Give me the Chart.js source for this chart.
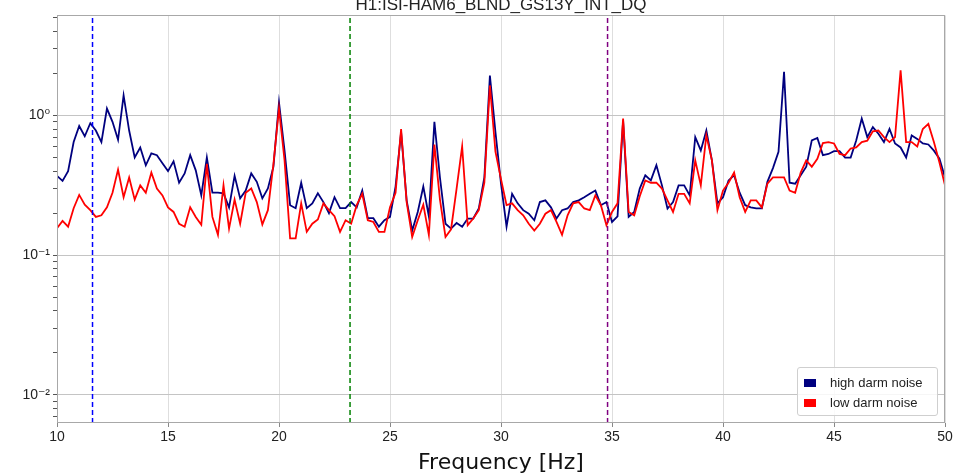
<!DOCTYPE html>
<html>
<head>
<meta charset="utf-8">
<script src="https://cdn.jsdelivr.net/npm/chart.js@4.4.0/dist/chart.umd.min.js"></script>
<style>
  html, body { margin: 0; padding: 0; background: #fff; overflow: hidden; }
  #wrap { position: relative; width: 957px; height: 476px; overflow: hidden; }
  #holder { position: absolute; left: 0; top: -8px; width: 957px; height: 484px; }
  .legend {
    position: absolute; left: 797px; top: 367px; width: 139px; height: 47px;
    border: 1px solid #cfcfcf; border-radius: 3px; background: rgba(255, 255, 255, 0.85);
    font: 13px "Liberation Sans", Arial, sans-serif; color: #222;
  }
  .legend .sw { position: absolute; left: 6px; width: 12px; height: 8px; }
  .legend .txt { position: absolute; left: 32px; height: 16px; line-height: 16px; white-space: nowrap; }
</style>
</head>
<body>
<div id="wrap">
  <div id="holder"><canvas id="psd" width="957" height="484"></canvas></div>
  <div class="legend" id="legend"></div>
</div>
<script>
// frequency grid of the spectra
const freqStart = 10;
const freqStep = 0.25;

// high darm noise (navy), 10 .. 50 Hz
const highNoise = [
  0.37, 0.34, 0.40, 0.645, 0.84, 0.71, 0.88, 0.78,
  0.645, 1.12, 0.90, 0.67, 1.39, 0.78, 0.50, 0.59,
  0.44, 0.535, 0.52, 0.455, 0.40, 0.47, 0.33, 0.385,
  0.52, 0.405, 0.268, 0.50, 0.28, 0.28, 0.277, 0.22,
  0.37, 0.255, 0.29, 0.385, 0.335, 0.255, 0.30, 0.43,
  1.24, 0.56, 0.228, 0.217, 0.33, 0.217, 0.235, 0.277,
  0.24, 0.20, 0.26, 0.217, 0.217, 0.24, 0.22, 0.29,
  0.184, 0.184, 0.16, 0.178, 0.188, 0.31, 0.76, 0.247,
  0.15, 0.204, 0.31, 0.19, 0.90, 0.36, 0.168, 0.155,
  0.17, 0.16, 0.183, 0.183, 0.216, 0.36, 1.93, 0.76,
  0.325, 0.16, 0.275, 0.235, 0.21, 0.198, 0.178, 0.24,
  0.247, 0.22, 0.183, 0.21, 0.216, 0.24, 0.247, 0.26,
  0.275, 0.29, 0.228, 0.24, 0.173, 0.19, 0.92, 0.188,
  0.204, 0.30, 0.373, 0.343, 0.44, 0.316, 0.216, 0.24,
  0.316, 0.316, 0.268, 0.70, 0.562, 0.78, 0.477, 0.235,
  0.26, 0.343, 0.373, 0.28, 0.228, 0.22, 0.216, 0.216,
  0.335, 0.42, 0.55, 2.05, 0.33, 0.325, 0.373, 0.43,
  0.663, 0.69, 0.52, 0.53, 0.555, 0.555, 0.50, 0.50,
  0.663, 0.95, 0.70, 0.825, 0.74, 0.645, 0.80, 0.63,
  0.59, 0.50, 0.72, 0.68, 0.63, 0.62, 0.56, 0.49,
  0.36
];

// low darm noise (red), 10 .. 50 Hz
const lowNoise = [
  0.156, 0.176, 0.16, 0.217, 0.27, 0.23, 0.21, 0.188,
  0.193, 0.22, 0.28, 0.41, 0.26, 0.36, 0.25, 0.316,
  0.28, 0.39, 0.30, 0.268, 0.22, 0.204, 0.168, 0.16,
  0.22, 0.188, 0.165, 0.45, 0.188, 0.14, 0.316, 0.155,
  0.25, 0.168, 0.28, 0.30, 0.24, 0.166, 0.21, 0.45,
  1.12, 0.477, 0.132, 0.132, 0.235, 0.147, 0.168, 0.18,
  0.235, 0.21, 0.19, 0.147, 0.178, 0.168, 0.228, 0.275,
  0.178, 0.173, 0.147, 0.147, 0.22, 0.28, 0.80, 0.24,
  0.135, 0.178, 0.23, 0.14, 0.62, 0.25, 0.135, 0.153,
  0.30, 0.60, 0.164, 0.183, 0.21, 0.33, 1.64, 0.55,
  0.35, 0.228, 0.235, 0.21, 0.193, 0.168, 0.15, 0.168,
  0.198, 0.21, 0.173, 0.14, 0.193, 0.235, 0.24, 0.216,
  0.21, 0.268, 0.228, 0.164, 0.204, 0.235, 0.95, 0.204,
  0.193, 0.264, 0.343, 0.33, 0.33, 0.30, 0.247, 0.204,
  0.275, 0.275, 0.235, 0.477, 0.316, 0.72, 0.477, 0.21,
  0.29, 0.33, 0.39, 0.26, 0.204, 0.247, 0.247, 0.22,
  0.325, 0.36, 0.36, 0.36, 0.29, 0.28, 0.39, 0.477,
  0.43, 0.49, 0.635, 0.645, 0.63, 0.53, 0.52, 0.58,
  0.59, 0.645, 0.66, 0.77, 0.78, 0.70, 0.645, 0.70,
  2.1, 0.645, 0.645, 0.60, 0.80, 0.87, 0.645, 0.46,
  0.316
];

const seriesNames = ["high darm noise", "low darm noise"];
const seriesColors = ["#00007f", "#ff0000"];

// dashed reference lines
const markerFreqs = [11.6, 23.2, 34.8];
const markerColors = ["#0000ff", "#008000", "#800080"];

const yTickValues = [1, 0.1, 0.01];
const yTickLabels = ["10⁰", "10⁻¹", "10⁻²"];
const xMin = 10, xMax = 50, xStep = 5;
const yMin = 0.0063, yMax = 5.2;

const narrow = "'Liberation Sans Narrow', 'Liberation Sans', 'DejaVu Sans', sans-serif";

function toPoints(values) {
  return values.map((v, i) => ({ x: freqStart + i * freqStep, y: v }));
}

function isPow10(v) {
  const e = Math.log10(v);
  return Math.abs(e - Math.round(e)) < 1e-6;
}

function isLogStep(v) {
  const s = v / Math.pow(10, Math.floor(Math.log10(v) + 1e-9));
  return Math.abs(s - Math.round(s)) < 1e-6;
}

let datasets = [
  {
    label: seriesNames[0],
    data: toPoints(highNoise),
    borderColor: seriesColors[0],
    borderWidth: 1.8,
    pointRadius: 0,
    order: 2,
  },
  {
    label: seriesNames[1],
    data: toPoints(lowNoise),
    borderColor: seriesColors[1],
    borderWidth: 1.8,
    pointRadius: 0,
    order: 1,
  },
];

markerFreqs.forEach((f, i) => {
  datasets.push({
    label: "marker" + i,
    data: [{ x: f, y: yMin }, { x: f, y: yMax }],
    borderColor: markerColors[i],
    borderWidth: 1.5,
    borderDash: [5, 3],
    pointRadius: 0,
    order: 0,
  });
});

const framePlugin = {
  id: "frame",
  afterDraw(chart) {
    const { ctx, chartArea: a } = chart;
    ctx.save();
    ctx.strokeStyle = "#a8a8a8";
    ctx.lineWidth = 1;
    ctx.strokeRect(Math.round(a.left) + 0.5, Math.round(a.top) + 0.5,
      Math.round(a.width) - 1, Math.round(a.height) - 1);
    ctx.restore();
  },
};

new Chart(document.querySelector("#psd"), {
  type: "line",
  data: { datasets: datasets },
  options: {
    responsive: false,
    animation: false,
    devicePixelRatio: 1,
    layout: { padding: { top: 0, right: 12, bottom: 0, left: 0 } },
    plugins: {
      legend: { display: false },
      tooltip: { enabled: false },
      title: {
        display: true,
        text: "H1:ISI-HAM6_BLND_GS13Y_INT_DQ",
        fullSize: false,
        color: "#222",
        font: { family: narrow, size: 17, weight: "normal" },
        padding: { top: 3, bottom: 0 },
      },
    },
    scales: {
      x: {
        type: "linear",
        min: xMin,
        max: xMax,
        afterFit: (scale) => { scale.height = 53; },
        border: { display: false },
        grid: { color: "#dedede", tickColor: "#888", tickLength: 4 },
        ticks: {
          stepSize: xStep,
          padding: 2,
          color: "#222",
          font: { family: narrow, size: 14 },
          maxRotation: 0,
        },
        title: {
          display: true,
          text: "Frequency [Hz]",
          color: "#111",
          font: { family: "'DejaVu Sans', sans-serif", size: 22 },
          padding: { top: 0, bottom: 0 },
        },
      },
      y: {
        type: "logarithmic",
        min: yMin,
        max: yMax,
        afterFit: (scale) => { scale.width = 57; },
        border: { display: false },
        grid: {
          color: (c) => (c.tick && isPow10(c.tick.value) ? "#c4c4c4" : "rgba(0,0,0,0)"),
          tickColor: (c) => (c.tick && isLogStep(c.tick.value) ? "#555" : "rgba(0,0,0,0)"),
          tickLength: 4,
        },
        ticks: {
          autoSkip: false,
          padding: 3,
          color: "#222",
          font: { family: narrow, size: 14 },
          callback: (v) => {
            const k = yTickValues.findIndex((t) => Math.abs(t - v) / t < 1e-6);
            return k >= 0 ? yTickLabels[k] : "";
          },
        },
      },
    },
  },
  plugins: [framePlugin],
});

// legend box inside the axes
let legendMarkUp = "";
seriesNames.forEach((name, i) => {
  const top = 7 + i * 20;
  legendMarkUp += `
    <div class="sw" style="top:${top + 4}px;background:${seriesColors[i]}"></div>
    <div class="txt" style="top:${top}px">${name}</div>`;
});
document.querySelector("#legend").innerHTML = legendMarkUp;
</script>
</body>
</html>
